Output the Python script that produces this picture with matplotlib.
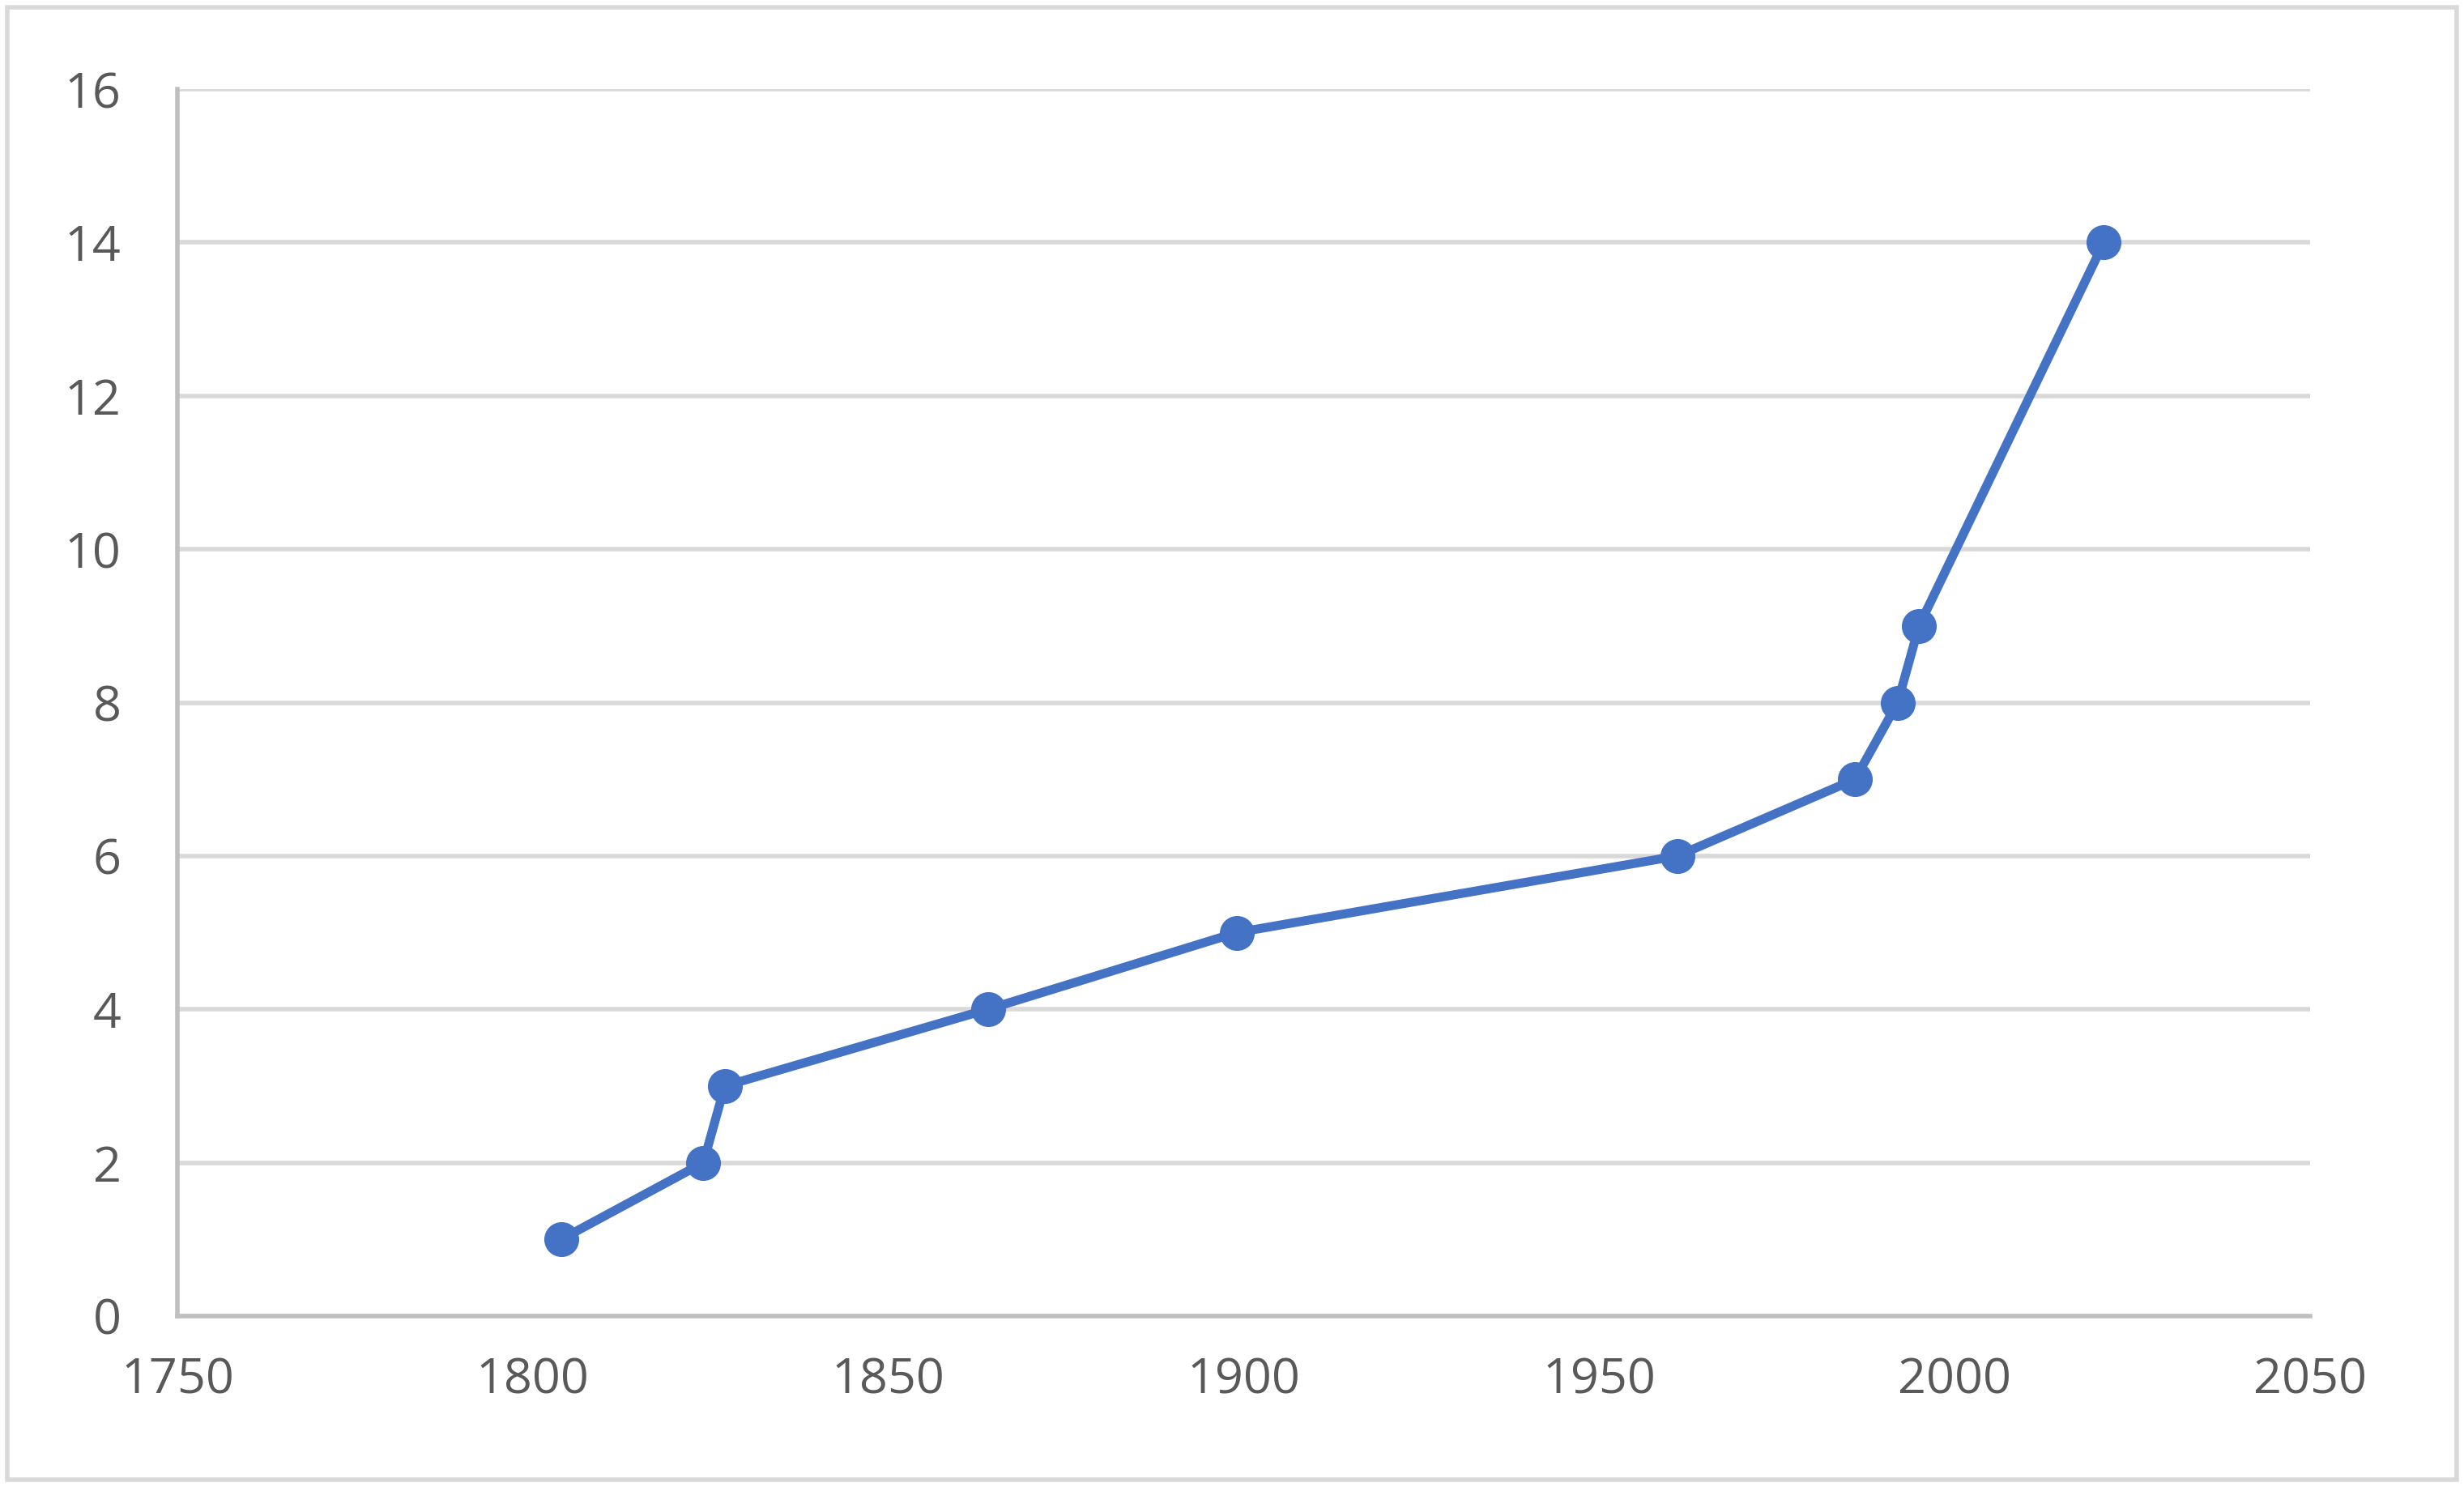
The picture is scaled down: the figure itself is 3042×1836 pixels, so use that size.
import matplotlib.pyplot as plt
from matplotlib.patches import Rectangle

years = [1804, 1824, 1827, 1864, 1899, 1961, 1986, 1992, 1995, 2021]
values = [1, 2, 3, 4, 5, 6, 7, 8, 9, 14]

plt.rcParams['font.family'] = ['Open Sans', 'DejaVu Sans']

fig = plt.figure(figsize=(30.42, 18.36), dpi=100)
ax = fig.add_axes([0.072, 0.115, 0.8655, 0.825])

ax.plot(years, values, color="#4472C4", linewidth=8, marker="o", markersize=30, zorder=3)

ax.set_xlim(1750, 2050)
ax.set_ylim(0, 16)
ax.set_xticks(range(1750, 2051, 50))
ax.set_yticks(range(0, 17, 2))
ax.grid(axis="y", color="#D9D9D9", linewidth=4)
ax.set_axisbelow(True)
for side in ["top", "right"]:
    ax.spines[side].set_visible(False)
for side in ["left", "bottom"]:
    ax.spines[side].set_color("#BFBFBF")
    ax.spines[side].set_linewidth(4)
ax.tick_params(length=0, labelsize=44, labelcolor="#595959")
ax.tick_params(axis="x", pad=36)
ax.tick_params(axis="y", pad=50)

fig.patches.append(Rectangle((0.003, 0.005), 0.994, 0.99, transform=fig.transFigure,
                             fill=False, edgecolor="#D9D9D9", linewidth=4))

fig.savefig("out.png", dpi=100)
